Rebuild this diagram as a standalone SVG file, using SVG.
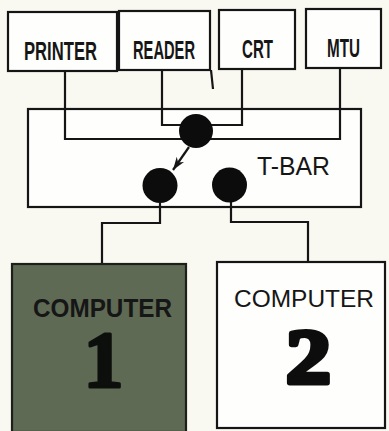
<svg xmlns="http://www.w3.org/2000/svg" width="389" height="431" viewBox="0 0 389 431">
<defs>
<style>
.box{fill:#fefefc;stroke:#151515;stroke-width:2.2}
.ln{fill:none;stroke:#151515;stroke-width:2.2;stroke-linejoin:miter}
.dot{fill:#0c0c0c}
.lab{font-family:"Liberation Sans",Arial,sans-serif;font-weight:bold;font-size:25px;fill:#161616;text-anchor:middle}
.big{font-family:"Liberation Serif","Times New Roman",serif;font-weight:bold;text-anchor:middle;stroke-linejoin:round}
</style>
<marker id="ah" markerUnits="userSpaceOnUse" markerWidth="16" markerHeight="10" refX="13" refY="4.5" orient="auto">
<path d="M0,0 L13,4.5 L0,9 L4,4.5 z" fill="#151515"/>
</marker>
</defs>
<rect x="0" y="0" width="389" height="431" fill="#f9f9f1"/>
<g id="printer"><rect class="box" x="8" y="12" width="109" height="59"/><text class="lab" x="60.5" y="59.5" textLength="73" lengthAdjust="spacingAndGlyphs">PRINTER</text></g>
<g id="reader"><rect class="box" x="119" y="11" width="91" height="59"/><text class="lab" x="164" y="58.5" textLength="62" lengthAdjust="spacingAndGlyphs">READER</text></g>
<g id="crt"><rect class="box" x="219" y="10" width="76" height="59"/><text class="lab" x="257.5" y="57.5" textLength="31" lengthAdjust="spacingAndGlyphs">CRT</text></g>
<g id="mtu"><rect class="box" x="306" y="9" width="75" height="59"/><text class="lab" x="343.5" y="56.5" textLength="33" lengthAdjust="spacingAndGlyphs">MTU</text></g>
<g id="tbar"><rect class="box" x="28" y="109" width="333" height="98"/><text x="293.5" y="175" font-family="Liberation Sans,Arial,sans-serif" font-size="25" fill="#161616" text-anchor="middle" textLength="73" lengthAdjust="spacingAndGlyphs">T-BAR</text></g>
<g id="connectors">
<path class="ln" d="M65,71 V139 H340 V68"/>
<path class="ln" d="M162,70 V125 H242 V69"/>
<path class="ln" d="M211,70 L213,89" stroke-width="1.8"/>
<path class="ln" d="M189,147 L173,170" marker-end="url(#ah)"/>
<path class="ln" d="M160,203 V223 H102 V264"/>
<path class="ln" d="M231,202 V222 H308 V262"/>
</g>
<g id="switch-main"><circle class="dot" cx="196" cy="131" r="17"/></g>
<g id="switch-1"><circle class="dot" cx="160" cy="185.5" r="17.5"/></g>
<g id="switch-2"><circle class="dot" cx="229.5" cy="185" r="17.5"/></g>
<g id="computer1"><rect x="12" y="264" width="174" height="168" fill="#5f6a55" stroke="#1c1f1a" stroke-width="2.2"/>
<text class="lab" x="102.5" y="317" font-size="22" fill="#151a14" textLength="139" lengthAdjust="spacingAndGlyphs">COMPUTER</text>
<text class="big" x="103.5" y="386.5" font-size="80" fill="#0d0f0c" stroke="#0d0f0c" stroke-width="3">1</text></g>
<g id="computer2"><rect class="box" x="217" y="262" width="168" height="166"/>
<text x="304" y="307" font-family="Liberation Sans,Arial,sans-serif" font-size="24" fill="#161616" text-anchor="middle" textLength="140" lengthAdjust="spacingAndGlyphs">COMPUTER</text>
<text class="big" transform="translate(308.5,382.5) scale(1.15,1)" x="0" y="0" font-size="78" fill="#0d0d0d" stroke="#0d0d0d" stroke-width="5">2</text></g>
</svg>
